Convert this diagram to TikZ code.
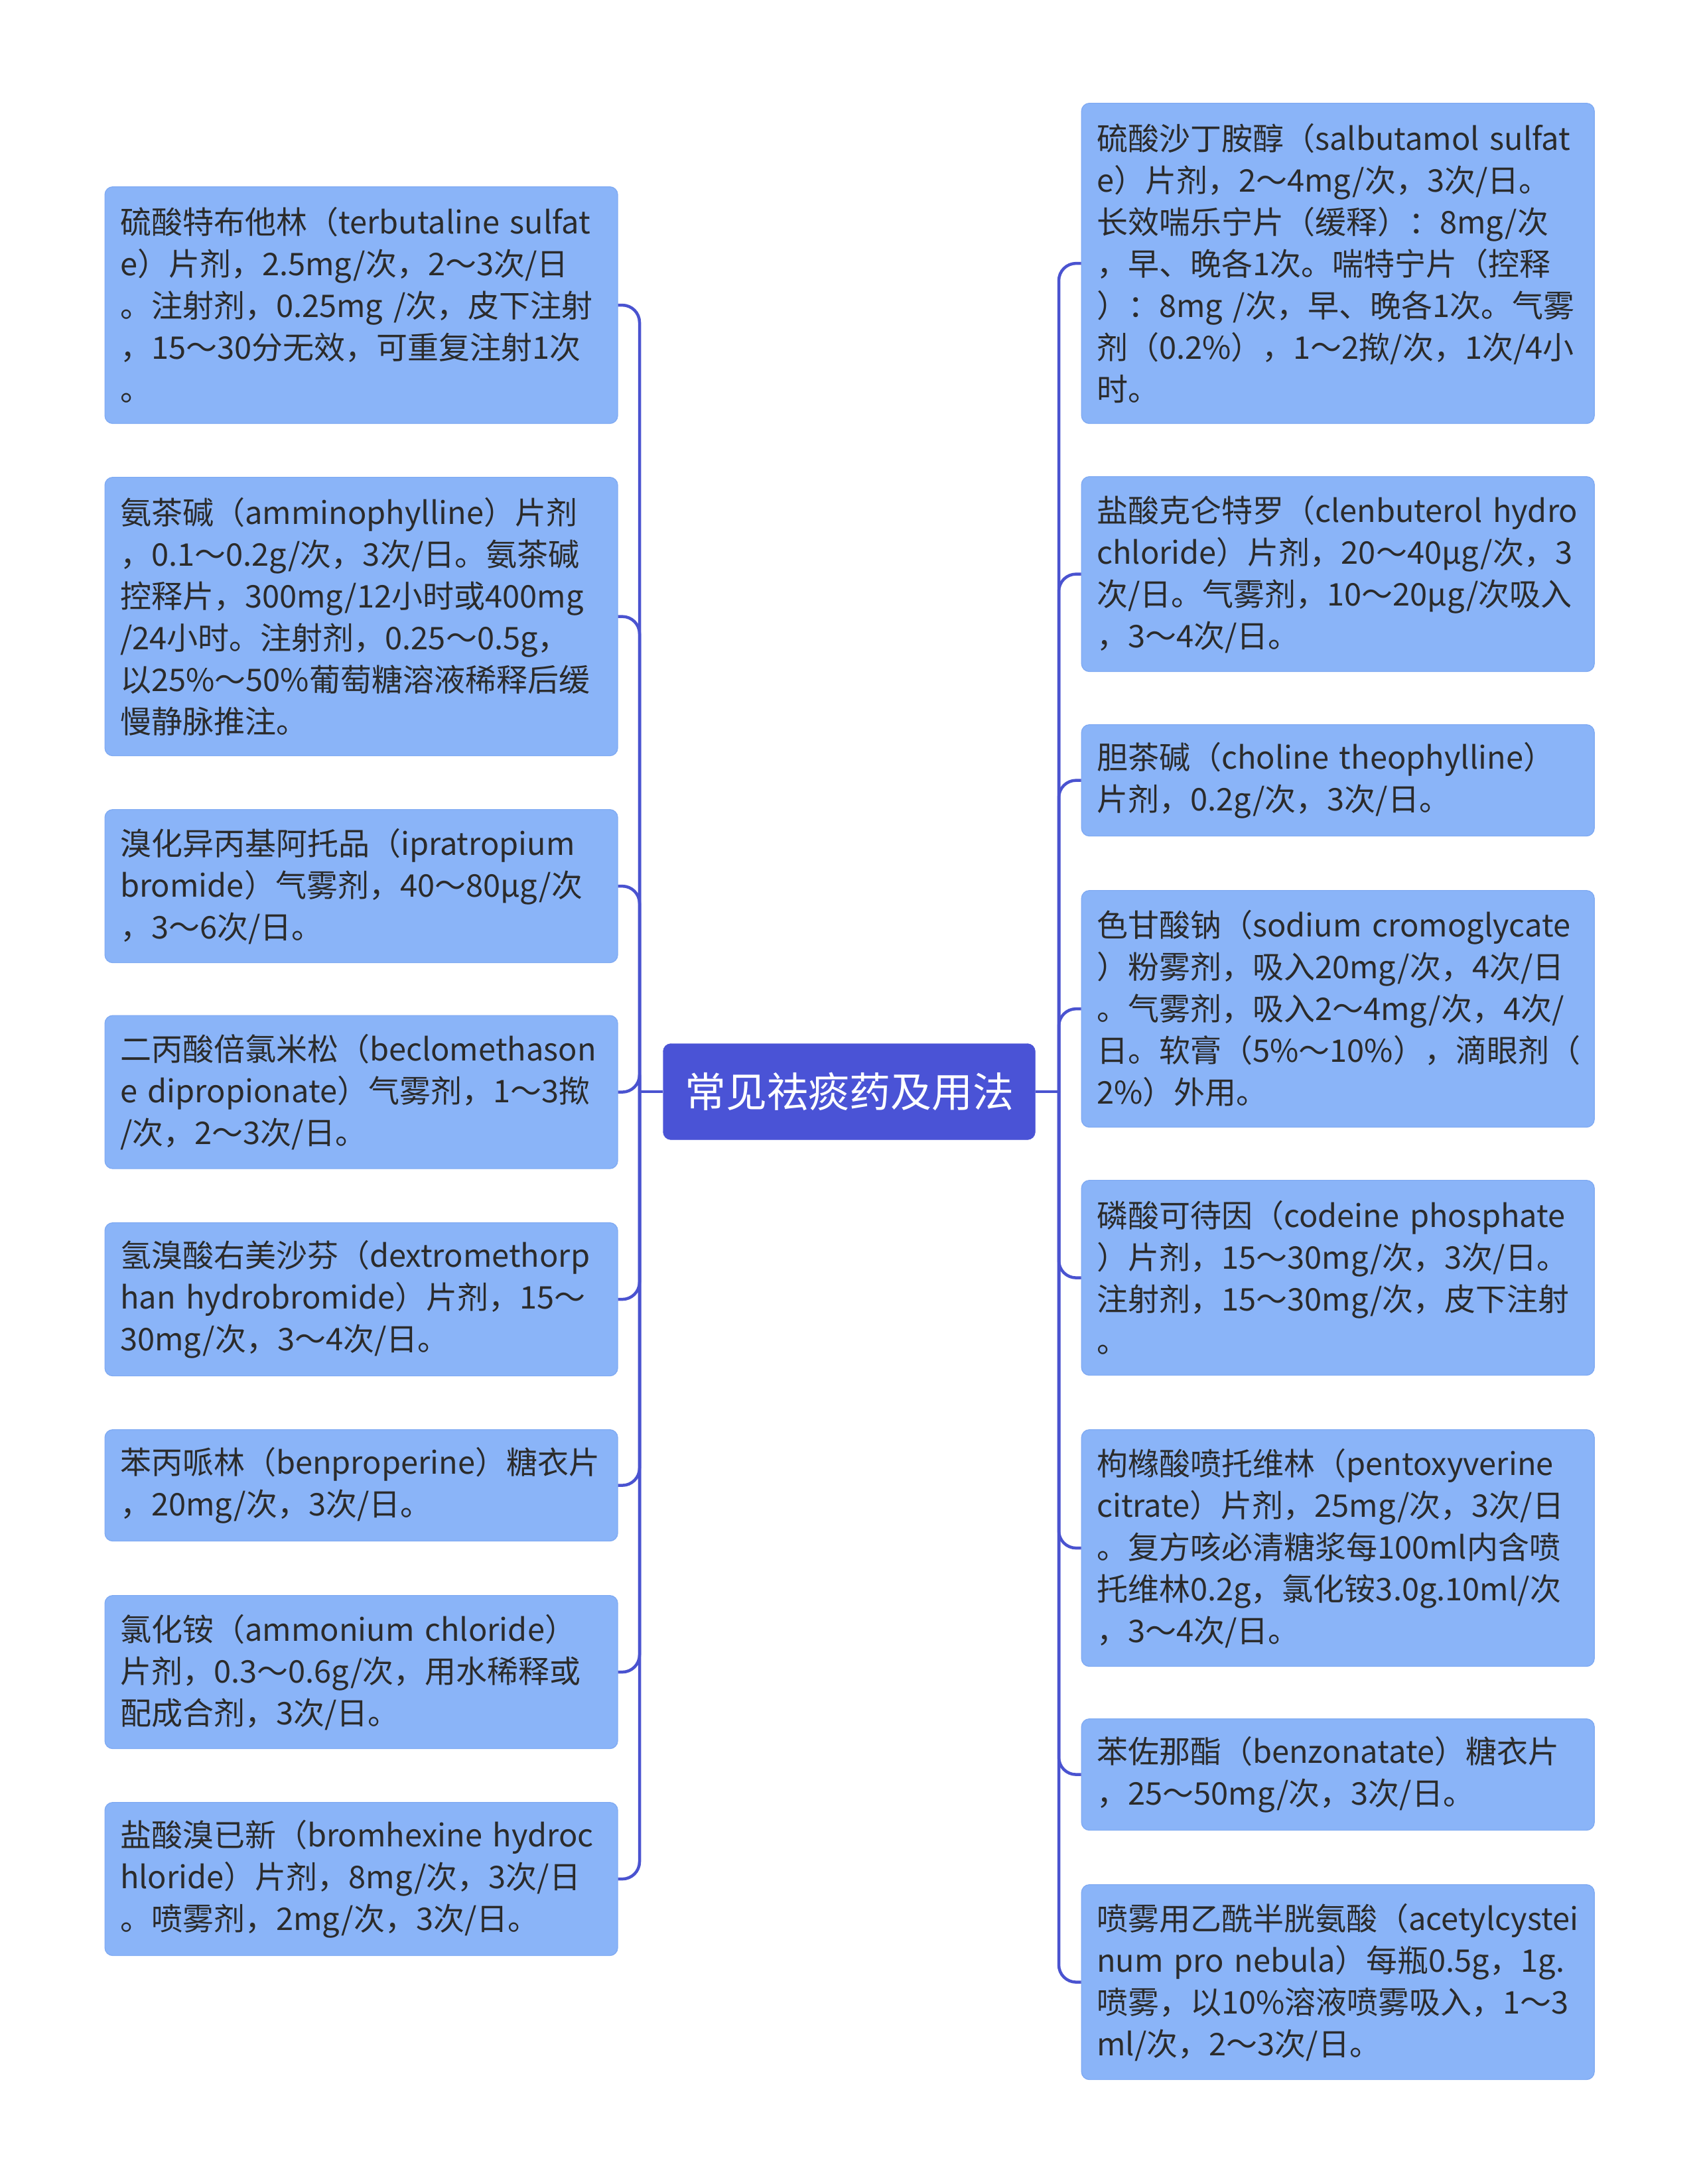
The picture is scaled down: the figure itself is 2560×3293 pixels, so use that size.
\documentclass[tikz,border=0pt]{standalone}
\usepackage{fontspec}
\setmainfont{Noto Sans CJK SC}
\definecolor{leafc}{HTML}{8AB4F8}
\definecolor{leafedge}{HTML}{7EA9F2}
\definecolor{rootc}{HTML}{4A53D6}
\definecolor{linec}{HTML}{4A53D0}
\definecolor{txt}{HTML}{2B2B2B}
\newcommand\bxl[1]{\mbox{#1}}
\tikzset{
  leaf/.style={rectangle, rounded corners=12pt, fill=leafc, draw=leafedge, line width=1.2pt,
    text=txt, font=\fontsize{47}{63}\selectfont, text width=727pt, align=left,
    inner xsep=23pt, inner ysep=0pt, minimum width=773pt, minimum height={63*#1+42},
    anchor=north west},
  rootbox/.style={rectangle, rounded corners=12pt, fill=rootc, draw=rootc, text=white,
    font=\fontsize{62}{70}\selectfont, minimum width=561pt, minimum height=145pt, inner sep=0pt},
  conn/.style={draw=linec, line width=4.5pt},
  branch/.style={conn, rounded corners=26pt}
}
\begin{document}
\begin{tikzpicture}[x=1pt,y=-1pt]
\useasboundingbox[fill=white] (0,0) rectangle (2560,3293);

\node[rootbox] (C) at (1280,1646) {常见祛痰药及用法};

% left
\node[leaf=5] (L1) at (157.5,281) {\bxl{硫酸特布他林（terbutaline sulfat}\\\bxl{e）片剂，2.5mg/次，2～3次/日}\\\bxl{。注射剂，0.25mg /次，皮下注射}\\\bxl{，15～30分无效，可重复注射1次}\\\bxl{。}};
\node[leaf=6] (L2) at (157.5,719) {\bxl{氨茶碱（amminophylline）片剂}\\\bxl{，0.1～0.2g/次，3次/日。氨茶碱}\\\bxl{控释片，300mg/12小时或400mg}\\\bxl{/24小时。注射剂，0.25～0.5g，}\\\bxl{以25\%～50\%葡萄糖溶液稀释后缓}\\\bxl{慢静脉推注。}};
\node[leaf=3] (L3) at (157.5,1220) {\bxl{溴化异丙基阿托品（ipratropium}\\\bxl{bromide）气雾剂，40～80μg/次}\\\bxl{，3～6次/日。}};
\node[leaf=3] (L4) at (157.5,1530.5) {\bxl{二丙酸倍氯米松（beclomethason}\\\bxl{e dipropionate）气雾剂，1～3揿}\\\bxl{/次，2～3次/日。}};
\node[leaf=3] (L5) at (157.5,1843) {\bxl{氢溴酸右美沙芬（dextromethorp}\\\bxl{han hydrobromide）片剂，15～}\\\bxl{30mg/次，3～4次/日。}};
\node[leaf=2] (L6) at (157.5,2155) {\bxl{苯丙哌林（benproperine）糖衣片}\\\bxl{，20mg/次，3次/日。}};
\node[leaf=3] (L7) at (157.5,2405) {\bxl{氯化铵（ammonium chloride）}\\\bxl{片剂，0.3～0.6g/次，用水稀释或}\\\bxl{配成合剂，3次/日。}};
\node[leaf=3] (L8) at (157.5,2717) {\bxl{盐酸溴已新（bromhexine hydroc}\\\bxl{hloride）片剂，8mg/次，3次/日}\\\bxl{。喷雾剂，2mg/次，3次/日。}};

% right
\node[leaf=7] (R1) at (1629.6,155) {\bxl{硫酸沙丁胺醇（salbutamol sulfat}\\\bxl{e）片剂，2～4mg/次，3次/日。}\\\bxl{长效喘乐宁片（缓释）：8mg/次}\\\bxl{，早、晚各1次。喘特宁片（控释}\\\bxl{）：8mg /次，早、晚各1次。气雾}\\\bxl{剂（0.2\%），1～2揿/次，1次/4小}\\\bxl{时。}};
\node[leaf=4] (R2) at (1629.6,718) {\bxl{盐酸克仑特罗（clenbuterol hydro}\\\bxl{chloride）片剂，20～40μg/次，3}\\\bxl{次/日。气雾剂，10～20μg/次吸入}\\\bxl{，3～4次/日。}};
\node[leaf=2] (R3) at (1629.6,1092) {\bxl{胆茶碱（choline theophylline）}\\\bxl{片剂，0.2g/次，3次/日。}};
\node[leaf=5] (R4) at (1629.6,1342) {\bxl{色甘酸钠（sodium cromoglycate}\\\bxl{）粉雾剂，吸入20mg/次，4次/日}\\\bxl{。气雾剂，吸入2～4mg/次，4次/}\\\bxl{日。软膏（5\%～10\%），滴眼剂（}\\\bxl{2\%）外用。}};
\node[leaf=4] (R5) at (1629.6,1779) {\bxl{磷酸可待因（codeine phosphate}\\\bxl{）片剂，15～30mg/次，3次/日。}\\\bxl{注射剂，15～30mg/次，皮下注射}\\\bxl{。}};
\node[leaf=5] (R6) at (1629.6,2155) {\bxl{枸橼酸喷托维林（pentoxyverine}\\\bxl{citrate）片剂，25mg/次，3次/日}\\\bxl{。复方咳必清糖浆每100ml内含喷}\\\bxl{托维林0.2g，氯化铵3.0g.10ml/次}\\\bxl{，3～4次/日。}};
\node[leaf=2] (R7) at (1629.6,2591) {\bxl{苯佐那酯（benzonatate）糖衣片}\\\bxl{，25～50mg/次，3次/日。}};
\node[leaf=4] (R8) at (1629.6,2841) {\bxl{喷雾用乙酰半胱氨酸（acetylcystei}\\\bxl{num pro nebula）每瓶0.5g，1g.}\\\bxl{喷雾，以10\%溶液喷雾吸入，1～3}\\\bxl{ml/次，2～3次/日。}};

% connectors
\coordinate (LJ) at (964,1646);
\coordinate (RJ) at (1596,1646);
\draw[conn] (C.west) -- (LJ);
\draw[conn] (C.east) -- (RJ);
\foreach \n in {L1,L2,L3,L4,L5,L6,L7,L8} {\draw[branch] (LJ) |- (\n.east);}
\foreach \n in {R1,R2,R3,R4,R5,R6,R7,R8} {\draw[branch] (RJ) |- (\n.west);}
\end{tikzpicture}
\end{document}
